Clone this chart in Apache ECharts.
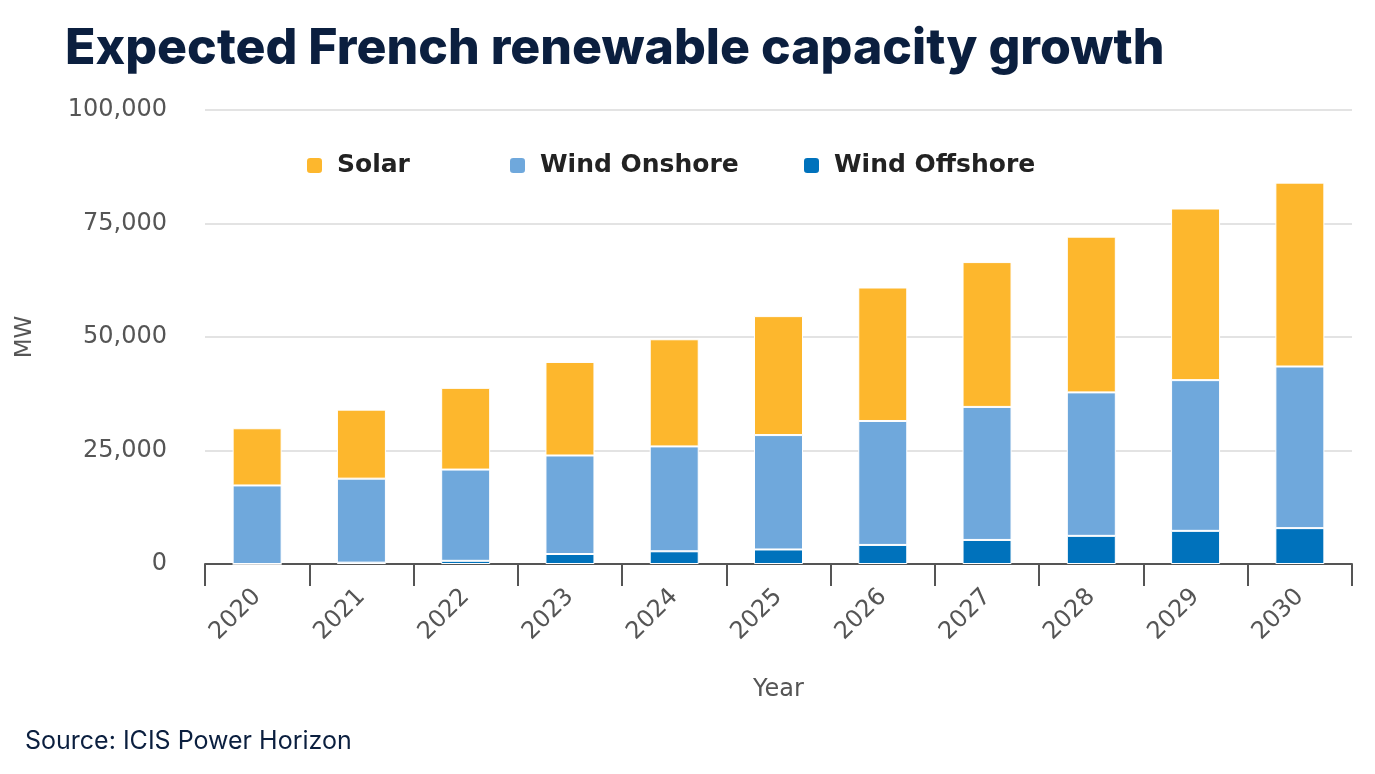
<!DOCTYPE html>
<html>
<head>
<meta charset="utf-8">
<script src="https://cdn.jsdelivr.net/npm/echarts@6/dist/echarts.min.js"></script>
<style>html,body{margin:0;padding:0;background:#fff}#c{width:1375px;height:774px}</style>
</head>
<body>
<div id="c"></div>
<script>
const years = ['2020','2021','2022','2023','2024','2025','2026','2027','2028','2029','2030'];
const windOffshore = [0, 300, 700, 2200, 2800, 3200, 4200, 5300, 6200, 7300, 7900];
const windOnshore = [17300, 18500, 20100, 21700, 23100, 25200, 27300, 29300, 31600, 33200, 35600];
const solar = [12600, 15200, 18000, 20600, 23600, 26200, 29400, 31900, 34300, 37800, 40500];
const yTicks = [0, 25000, 50000, 75000, 100000];

const colors = {solar:'#FDB72D', on:'#6FA8DC', off:'#0072BC'};
const chart = echarts.init(document.getElementById('c'), null, {renderer:'canvas'});
const legendText = {fontFamily:'DejaVu Sans', fontSize:25, fontWeight:'bold', color:'#222', padding:[0,0,0,9]};
function lg(name, left){
  return {data:[name], left:left, top:153, padding:0, icon:'roundRect', itemWidth:17, itemHeight:17, itemGap:0, textStyle:legendText, selectedMode:false};
}
chart.setOption({
  animation:false,
  title:{text:'Expected French renewable capacity growth', left:60, top:19,
    textStyle:{fontFamily:'Inter', fontSize:50, fontWeight:800, color:'#0b1f3f'}},
  legend:[lg('Solar',305), lg('Wind Onshore',508), lg('Wind Offshore',802)],
  grid:{left:205, right:23, top:110, bottom:210},
  xAxis:{type:'category', data:years, boundaryGap:true,
    name:'Year', nameLocation:'middle', nameGap:114,
    nameTextStyle:{fontFamily:'DejaVu Sans', fontSize:24, color:'#555'},
    axisLine:{lineStyle:{color:'#555', width:2}},
    axisTick:{show:true, length:22, lineStyle:{color:'#555', width:2}, alignWithLabel:false},
    axisLabel:{rotate:45, fontFamily:'DejaVu Sans', fontSize:24, color:'#555', margin:29}},
  yAxis:{type:'value', min:0, max:100000, interval:25000,
    name:'MW', nameLocation:'middle', nameGap:168,
    nameTextStyle:{fontFamily:'DejaVu Sans', fontSize:23, color:'#555'},
    axisLine:{show:false}, axisTick:{show:false},
    splitLine:{lineStyle:{color:'#e3e3e3', width:2}},
    axisLabel:{fontFamily:'DejaVu Sans', fontSize:24, color:'#555', margin:38,
      formatter:v=>v.toLocaleString('en-US')}},
  series:[
    {name:'Wind Offshore', type:'bar', stack:'t', data:windOffshore, barWidth:49,
      itemStyle:{color:colors.off, borderColor:'#fff', borderWidth:1}},
    {name:'Wind Onshore', type:'bar', stack:'t', data:windOnshore, barWidth:49,
      itemStyle:{color:colors.on, borderColor:'#fff', borderWidth:1}},
    {name:'Solar', type:'bar', stack:'t', data:solar, barWidth:49,
      itemStyle:{color:colors.solar, borderColor:'#fff', borderWidth:1}}
  ],
  graphic:[{type:'text', left:25, top:729,
    style:{text:'Source: ICIS Power Horizon', fontFamily:'Inter', fontSize:25, fill:'#0b1f3f'}}]
});
</script>
</body>
</html>
